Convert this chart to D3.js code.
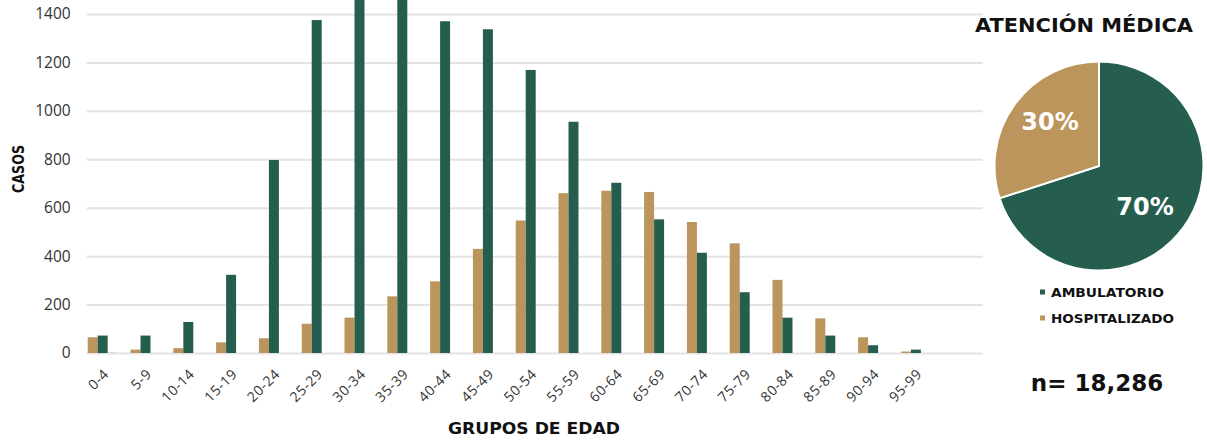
<!DOCTYPE html>
<html><head><meta charset="utf-8">
<script src="https://cdn.jsdelivr.net/npm/d3@7"></script>
<style>body{margin:0;background:#fff}svg{display:block}</style>
</head><body>
<svg id="c" width="1207" height="441"></svg>
<script>
const categories = ["0-4","5-9","10-14","15-19","20-24","25-29","30-34","35-39","40-44","45-49","50-54","55-59","60-64","65-69","70-74","75-79","80-84","85-89","90-94","95-99"];
const hospitalizado = [65,14,20,44,61,121,146,234,296,430,547,660,670,665,541,453,302,143,65,6];
const ambulatorio = [72,72,128,323,797,1375,1530,1490,1370,1337,1169,955,703,552,414,251,146,72,32,14];
const otro = [3,0,0,0,0,0,0,0,0,0,0,0,0,0,0,0,0,0,0,0];
const yTicks = [0,200,400,600,800,1000,1200,1400];
const pieLabels = ["AMBULATORIO","HOSPITALIZADO"];
const pieValues = [70,30];
const totalLabel = "n= 18,286";

const GREEN = "#255E4F", GOLD = "#BC955C", LIGHT = "#E3D3B4";
const svg = d3.select("#c");
const F = "'DejaVu Sans', sans-serif";

const y = d3.scaleLinear().domain([0,1400]).range([353,14]);
const x = d3.scaleBand().domain(categories).range([81.3, 937.3]).paddingInner(0.3).paddingOuter(0.15);
const xs = d3.scaleBand().domain(["h","a","o"]).range([0, x.bandwidth()]);

// grid
const gAxis = svg.append("g").attr("transform","translate(86.7,0)")
  .call(d3.axisLeft(y).tickValues(yTicks).tickSize(0).tickFormat(d3.format("d")));
gAxis.select(".domain").remove();
gAxis.selectAll(".tick line").attr("x1",0).attr("x2",896).attr("stroke","#e3e3e3").attr("stroke-width",2);
gAxis.selectAll(".tick text").attr("font-family","'Open Sans', sans-serif").attr("font-size",15.5).attr("fill","#333").attr("x",-16);

const series = [["h",hospitalizado,GOLD],["a",ambulatorio,GREEN],["o",otro,LIGHT]];
const bars = svg.append("g");
series.forEach(([k,vals,col])=>{
  bars.selectAll(null).data(categories).join("rect")
    .attr("x",(d)=>x(d)+xs(k))
    .attr("width",xs.bandwidth())
    .attr("y",(d,i)=>y(vals[i]))
    .attr("height",(d,i)=>y(0)-y(vals[i]))
    .attr("fill",col);
});

// x labels
svg.append("g").selectAll("text").data(categories).join("text")
  .attr("transform",d=>`translate(${x(d)+x.bandwidth()/2+7},375) rotate(-45)`)
  .attr("text-anchor","end").attr("font-family","'Open Sans', sans-serif").attr("font-size",14).attr("letter-spacing",0.6).attr("fill","#333")
  .text(d=>d);

svg.append("text").attr("transform","translate(24,169) rotate(-90)").attr("text-anchor","middle")
  .attr("font-family",F).attr("font-weight","bold").attr("font-size",15.5).attr("fill","#111")
  .attr("textLength",48).attr("lengthAdjust","spacingAndGlyphs").text("CASOS");
svg.append("text").attr("x",534).attr("y",434).attr("text-anchor","middle")
  .attr("font-family",F).attr("font-weight","bold").attr("font-size",15.5).attr("fill","#111")
  .attr("textLength",172).attr("lengthAdjust","spacingAndGlyphs").text("GRUPOS DE EDAD");

// pie
const cx = 1099, cy = 166, r = 104.5;
svg.append("text").attr("x",1084).attr("y",32).attr("text-anchor","middle")
  .attr("font-family",F).attr("font-weight","bold").attr("font-size",20).attr("fill","#111")
  .attr("textLength",218).attr("lengthAdjust","spacingAndGlyphs").text("ATENCIÓN MÉDICA");
const pie = d3.pie().sort(null).value(d=>d)(pieValues);
const arc = d3.arc().innerRadius(0).outerRadius(r);
const pg = svg.append("g").attr("transform",`translate(${cx},${cy})`);
pg.selectAll("path").data(pie).join("path").attr("d",arc)
  .attr("fill",(d,i)=>i===0?GREEN:GOLD).attr("stroke","#fff").attr("stroke-width",2);
const labelPos = [[46,41],[-49,-44]];
pg.selectAll("text").data(pie).join("text")
  .attr("x",(d,i)=>labelPos[i][0]).attr("y",(d,i)=>labelPos[i][1])
  .attr("text-anchor","middle").attr("dominant-baseline","central")
  .attr("font-family",F).attr("font-weight","bold").attr("font-size",24).attr("fill","#fff")
  .text(d=>d.value+"%");

// legend
const lg = svg.append("g");
const legW = [113,123];
pieLabels.forEach((t,i)=>{
  lg.append("rect").attr("x",1040).attr("y",289.5+i*26).attr("width",5).attr("height",5).attr("fill",i===0?GREEN:GOLD);
  lg.append("text").attr("x",1051).attr("y",292+i*26).attr("dominant-baseline","central")
    .attr("font-family",F).attr("font-weight","bold").attr("font-size",13).attr("fill","#111")
    .attr("textLength",legW[i]).attr("lengthAdjust","spacingAndGlyphs").text(t);
});
svg.append("text").attr("x",1097).attr("y",391).attr("text-anchor","middle")
  .attr("font-family",F).attr("font-weight","bold").attr("font-size",23).attr("fill","#111").text(totalLabel);
</script>
</body></html>
